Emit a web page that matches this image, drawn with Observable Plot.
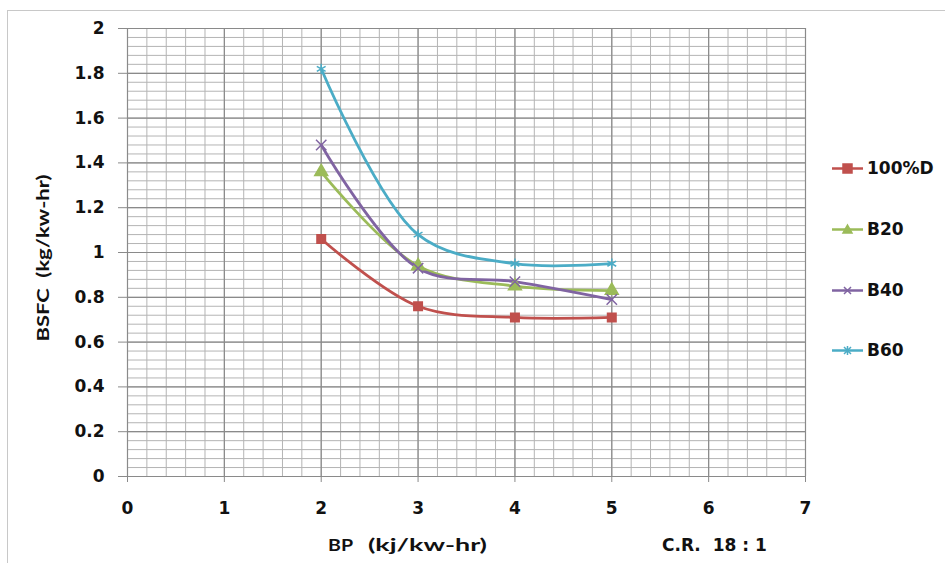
<!DOCTYPE html>
<html>
<head>
<meta charset="utf-8">
<script src="https://cdn.jsdelivr.net/npm/d3@7"></script>
<script src="https://cdn.jsdelivr.net/npm/@observablehq/plot@0.6"></script>
<style>
  html, body { margin: 0; padding: 0; background: #fff; }
  #wrap { position: relative; width: 945px; height: 563px; overflow: hidden; font-family: "DejaVu Sans", sans-serif; font-weight: bold; color: #111; }
  #frame { position: absolute; left: 7px; top: 10px; width: 960px; height: 600px; border: 1px solid #c8c8c8; }
  #chart { position: absolute; left: 0; top: 0; }
  .lbl { position: absolute; white-space: pre; font-size: 17px; line-height: 20px; }
  .cal { font-family: Lato, "Open Sans", sans-serif; font-size: 17px; }
  #legend { position: absolute; left: 832px; top: 0; }
  .item { position: absolute; left: 0; display: flex; align-items: center; font-size: 17px; white-space: pre; transform: translateY(-50%); }
  .item svg { margin-right: 4px; }
</style>
</head>
<body>
<div id="wrap">
  <div id="frame"></div>
  <div id="chart"></div>
  <div class="lbl cal" id="ytitle" data-w="167" style="left:43px;top:258px;">BSFC  (kg/kw-hr)</div>
  <div class="lbl cal" id="xt1" data-w="25" style="left:328px;top:535px;">BP</div>
  <div class="lbl cal" id="xt2" data-w="119" style="left:368px;top:535px;">(kj/kw-hr)</div>
  <div class="lbl" style="left:662px;top:535px;">C.R.  18 : 1</div>
  <div id="legend"></div>
</div>
<script>
const bpValues = [2, 3, 4, 5];
const seriesNames = ["100%D", "B20", "B40", "B60"];
const d100 = [1.06, 0.76, 0.71, 0.71];
const b20 = [1.36, 0.94, 0.85, 0.83];
const b40 = [1.48, 0.93, 0.87, 0.79];
const b60 = [1.82, 1.08, 0.95, 0.95];
const seriesColors = ["#C0504D", "#9BBB59", "#8064A2", "#4BACC6"];
const seriesSymbols = ["square", "triangle", "times", "asterisk"];
const xTicks = [0, 1, 2, 3, 4, 5, 6, 7];
const yTicks = [0, 0.2, 0.4, 0.6, 0.8, 1, 1.2, 1.4, 1.6, 1.8, 2];

const allSeries = [d100, b20, b40, b60];
const data = [];
seriesNames.forEach((name, i) => {
  bpValues.forEach((bp, j) => data.push({series: name, bp, bsfc: allSeries[i][j]}));
});

const xMinor = d3.range(0, 7.0001, 0.2);
const yMinor = d3.range(0, 2.0001, 0.04);
const fmt = d3.format("~g");

const chart = Plot.plot({
  width: 945,
  height: 563,
  marginLeft: 127,
  marginRight: 140,
  marginTop: 28,
  marginBottom: 87,
  style: {fontFamily: "'DejaVu Sans', sans-serif", fontSize: "17px", fontWeight: "bold", color: "#111", background: "transparent", overflow: "visible"},
  x: {domain: [0, 7], label: null},
  y: {domain: [0, 2], label: null},
  color: {domain: seriesNames, range: seriesColors},
  symbol: {domain: seriesNames, range: seriesSymbols},
  marks: [
    Plot.gridX(xMinor, {stroke: "#b4b4b4", strokeOpacity: 1, strokeWidth: 1}),
    Plot.gridY(yMinor, {stroke: "#b4b4b4", strokeOpacity: 1, strokeWidth: 1}),
    Plot.gridX(xTicks, {stroke: "#8a8a8a", strokeOpacity: 1, strokeWidth: 1.2}),
    Plot.gridY(yTicks, {stroke: "#8a8a8a", strokeOpacity: 1, strokeWidth: 1.2}),
    Plot.axisX(xTicks, {tickSize: 6, tickPadding: 19, stroke: "#8a8a8a", fill: "#111", fontSize: 17, fontWeight: "bold", label: null, tickFormat: fmt}),
    Plot.axisY(yTicks, {tickSize: 9, tickPadding: 14, stroke: "#8a8a8a", fill: "#111", fontSize: 17, fontWeight: "bold", label: null, tickFormat: fmt}),
    Plot.line(data, {x: "bp", y: "bsfc", z: "series", stroke: "series", curve: "catmull-rom", strokeWidth: 2.8}),
    Plot.dot(data, {x: "bp", y: "bsfc", symbol: "series", fill: "series", stroke: "series", r: 4.8, strokeWidth: 1.5})
  ]
});
document.getElementById("chart").appendChild(chart);

// fit the Calibri-like titles to the widths measured on the reference
document.querySelectorAll(".cal").forEach(el => {
  const target = +el.dataset.w;
  const w = el.getBoundingClientRect().width;
  const s = target / w;
  if (el.id === "ytitle") {
    el.style.transformOrigin = "0 0";
    el.style.transform = `rotate(-90deg) scaleX(${s}) translate(-50%, -50%)`;
  } else {
    el.style.transformOrigin = "0 50%";
    el.style.transform = `scaleX(${s})`;
  }
});

const legend = document.getElementById("legend");
const legendY = [168, 229, 290, 350];
const symPaths = {
  square: '<rect x="10" y="3" width="9" height="9"/>',
  triangle: '<path d="M14.5,3 L19,11 L10,11 Z"/>',
  times: '<path d="M11,4 L18,11 M18,4 L11,11" fill="none"/>',
  asterisk: '<path d="M11,4 L18,11 M18,4 L11,11 M14.5,3 L14.5,12" fill="none"/>'
};
seriesNames.forEach((name, i) => {
  const c = seriesColors[i];
  const div = document.createElement("div");
  div.className = "item";
  div.style.top = legendY[i] + "px";
  div.innerHTML = `<svg width="31" height="15"><line x1="0" x2="31" y1="7.5" y2="7.5" stroke="${c}" stroke-width="2.5"/><g transform="translate(1,0)" fill="${c}" stroke="${c}" stroke-width="1.5">${symPaths[seriesSymbols[i]]}</g></svg><span>${name}</span>`;
  legend.appendChild(div);
});
</script>
</body>
</html>
